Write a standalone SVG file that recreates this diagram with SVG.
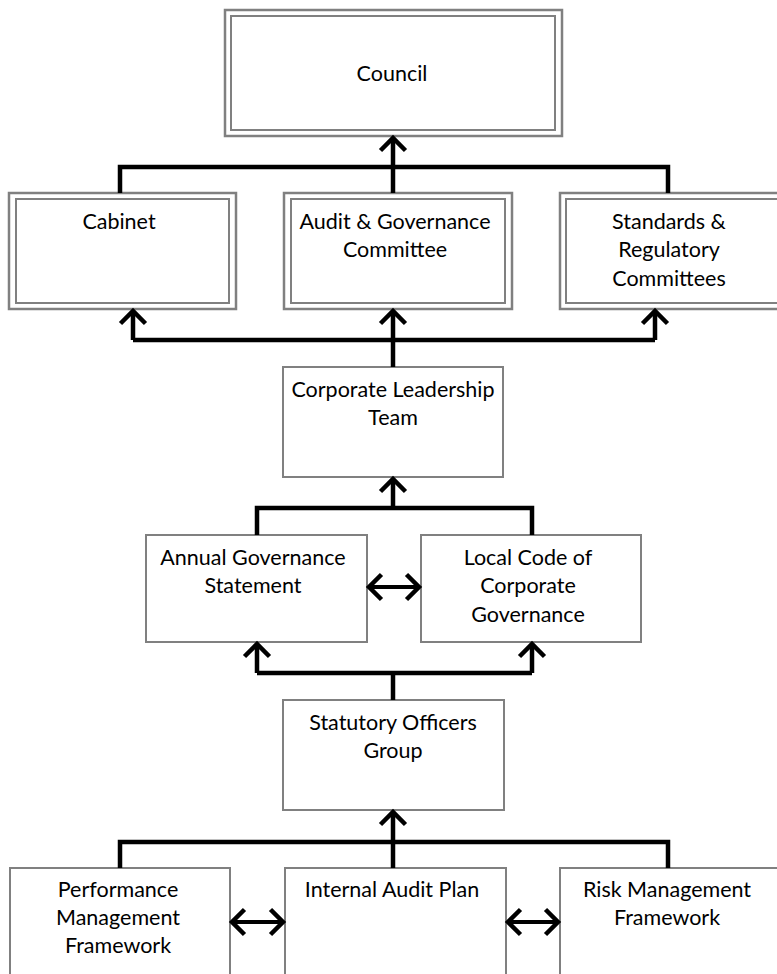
<svg xmlns="http://www.w3.org/2000/svg" width="777" height="974" viewBox="0 0 777 974">
<defs>
<marker id="chev" markerUnits="userSpaceOnUse" markerWidth="40" markerHeight="40" viewBox="-20 -20 40 40" refX="0" refY="0" orient="auto-start-reverse" overflow="visible">
<path d="M-12.5 -12.5 L0 0 L-12.5 12.5" fill="none" stroke="#000" stroke-width="4.5"/>
</marker>
</defs>
<style>
.box{fill:#fff;stroke:#808080;stroke-width:2}
.outer{fill:#fff;stroke:#808080;stroke-width:2.5}
.lbl{font-family:Lato,"Liberation Sans",sans-serif;font-size:21.5px;fill:#000;text-anchor:middle}
.c{fill:none;stroke:#000;stroke-width:4.5}
.a{fill:none;stroke:#000;stroke-width:4.5;marker-end:url(#chev)}
.d{fill:none;stroke:#000;stroke-width:4;marker-start:url(#chev);marker-end:url(#chev)}
</style>
<rect width="777" height="974" fill="#fff"/>
<g id="council">
<rect class="outer" x="225" y="10" width="337" height="126"/>
<rect class="box" x="231" y="16" width="324" height="114"/>
<text class="lbl" x="392" y="81">Council</text>
</g>
<g id="cabinet">
<rect class="outer" x="9" y="193" width="227" height="116"/>
<rect class="box" x="16" y="199" width="213" height="104"/>
<text class="lbl" x="119" y="229">Cabinet</text>
</g>
<g id="audit-committee">
<rect class="outer" x="284" y="193" width="228" height="116"/>
<rect class="box" x="291" y="199" width="214" height="104"/>
<text class="lbl" x="395" y="229">Audit &amp; Governance</text>
<text class="lbl" x="395" y="257">Committee</text>
</g>
<g id="standards">
<rect class="outer" x="560" y="193" width="232" height="116"/>
<rect class="box" x="566" y="199" width="220" height="104"/>
<text class="lbl" x="669" y="229">Standards &amp;</text>
<text class="lbl" x="669" y="257">Regulatory</text>
<text class="lbl" x="669" y="286">Committees</text>
</g>
<g id="clt">
<rect class="box" x="283" y="367" width="220" height="110"/>
<text class="lbl" x="393" y="397">Corporate Leadership</text>
<text class="lbl" x="393" y="425">Team</text>
</g>
<g id="ags">
<rect class="box" x="146" y="535" width="221" height="107"/>
<text class="lbl" x="253" y="565">Annual Governance</text>
<text class="lbl" x="253" y="593">Statement</text>
</g>
<g id="lccg">
<rect class="box" x="421" y="535" width="220" height="107"/>
<text class="lbl" x="528" y="565">Local Code of</text>
<text class="lbl" x="528" y="593">Corporate</text>
<text class="lbl" x="528" y="622">Governance</text>
</g>
<g id="sog">
<rect class="box" x="283" y="700" width="221" height="110"/>
<text class="lbl" x="393" y="730">Statutory Officers</text>
<text class="lbl" x="393" y="758">Group</text>
</g>
<g id="pmf">
<rect class="box" x="10" y="868" width="220" height="120"/>
<text class="lbl" x="118" y="897">Performance</text>
<text class="lbl" x="118" y="925">Management</text>
<text class="lbl" x="118" y="953">Framework</text>
</g>
<g id="iap">
<rect class="box" x="285" y="868" width="221" height="120"/>
<text class="lbl" x="392" y="897">Internal Audit Plan</text>
</g>
<g id="rmf">
<rect class="box" x="560" y="868" width="222" height="120"/>
<text class="lbl" x="667" y="897">Risk Management</text>
<text class="lbl" x="667" y="925">Framework</text>
</g>
<g id="connectors">
<path class="c" d="M120 193 V167 H668 V193"/>
<path class="a" d="M393 193 V138"/>
<path class="c" d="M133 340 H655"/>
<path class="a" d="M133 340 V311"/>
<path class="a" d="M655 340 V311"/>
<path class="a" d="M393 367 V311"/>
<path class="a" d="M393 508 V479"/>
<path class="c" d="M257 535 V508 H532 V535"/>
<path class="c" d="M393 700 V673 M257 673 H532"/>
<path class="a" d="M257 673 V644"/>
<path class="a" d="M532 673 V644"/>
<path class="d" d="M369 587 H419"/>
<path class="a" d="M393 842 V812"/>
<path class="c" d="M120 868 V842 H668 V868 M393 842 V868"/>
<path class="d" d="M232 922 H283"/>
<path class="d" d="M508 922 H558"/>
</g>
</svg>
